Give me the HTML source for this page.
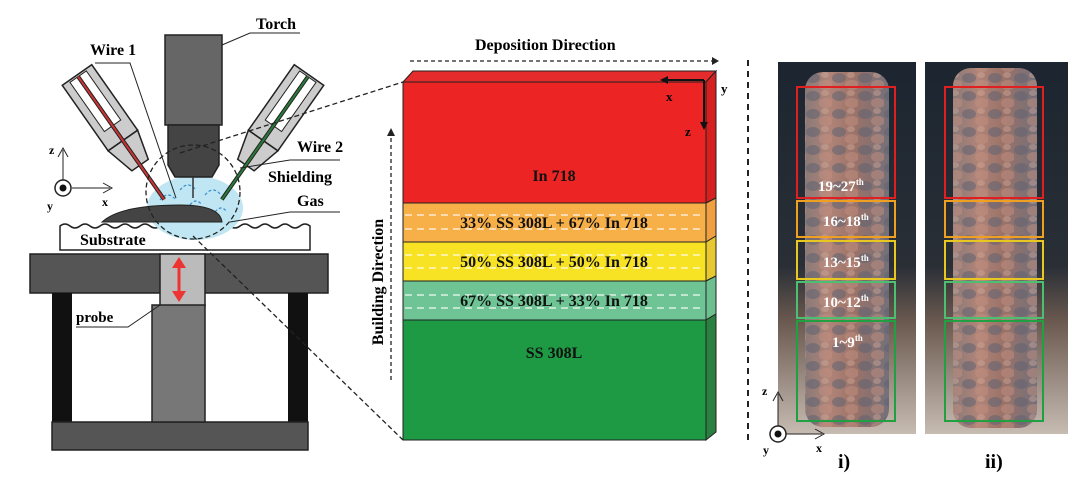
<!DOCTYPE html>
<html><head><meta charset="utf-8"><style>
html,body{margin:0;padding:0;background:#fff}
svg{display:block}
text{font-family:"Liberation Serif",serif;font-weight:bold}
</style></head><body>
<svg width="1080" height="482" viewBox="0 0 1080 482" xmlns="http://www.w3.org/2000/svg">
<defs>
<linearGradient id="ph" x1="0" y1="0" x2="0" y2="1">
<stop offset="0" stop-color="#1c2530"/><stop offset="0.55" stop-color="#2a2f36"/><stop offset="0.7" stop-color="#6b5a50"/><stop offset="1" stop-color="#c7bcb2"/>
</linearGradient>
<linearGradient id="col" x1="0" y1="0" x2="1" y2="0">
<stop offset="0" stop-color="#8a7a78"/><stop offset="0.3" stop-color="#b08478"/><stop offset="0.6" stop-color="#9a7268"/><stop offset="1" stop-color="#74707a"/>
</linearGradient>
<pattern id="blob" width="26" height="18" patternUnits="userSpaceOnUse">
<ellipse cx="7" cy="6" rx="7" ry="5" fill="#5e6270" opacity="0.55"/>
<ellipse cx="20" cy="13" rx="7" ry="5" fill="#c49080" opacity="0.5"/>
<ellipse cx="19" cy="3" rx="4" ry="3" fill="#d6b0a0" opacity="0.4"/>
</pattern>
</defs>
<!-- table -->
<rect x="30" y="254" width="298" height="39" fill="#555" stroke="#222" stroke-width="1.5"/>
<rect x="52" y="293" width="20" height="130" fill="#111"/>
<rect x="288" y="293" width="20" height="130" fill="#111"/>
<rect x="52" y="422" width="256" height="28" fill="#555" stroke="#222" stroke-width="1.5"/>
<rect x="160" y="254" width="45" height="52" fill="#bbb" stroke="#222" stroke-width="1.5"/>
<rect x="152" y="305" width="53" height="117" fill="#777" stroke="#222" stroke-width="1.5"/>
<line x1="179" y1="262" x2="179" y2="297" stroke="#e33" stroke-width="3"/>
<polygon points="179,257 172,268 186,268" fill="#e33"/><polygon points="179,302 172,291 186,291" fill="#e33"/>
<text x="76" y="322" font-size="15">probe</text>
<polyline points="76,327 128,327 160,305" fill="none" stroke="#222" stroke-width="1"/>
<!-- substrate -->
<path d="M60,226 q5,-4 10,0 t10,0 t10,0 t10,0 t10,0 t10,0 t10,0 t10,0 t10,0 t10,0 t10,0 t10,0 t10,0 t10,0 t10,0 t10,0 t10,0 t10,0 t10,0 t10,0 t10,0 t10,0 t10,0 t10,0 t10,0 L310,250 L60,250 Z" fill="#fff" stroke="#222" stroke-width="1.5"/>
<text x="80" y="245" font-size="16">Substrate</text>
<!-- gas -->
<ellipse cx="195" cy="208" rx="48" ry="32" fill="#bfe6f2"/>
<path d="M160,200 q8,-10 16,0 M180,190 q8,-10 16,0 M205,195 q8,-10 16,0 M170,215 q6,-8 12,0 M215,212 q6,-8 12,0 M190,205 q6,-8 12,0" stroke="#3a8fd0" stroke-width="1.2" fill="none" stroke-dasharray="3,2"/>
<path d="M102,222 Q120,205 180,205 Q220,205 222,222 Z" fill="#444" stroke="#222"/>
<!-- torch -->
<rect x="165" y="35" width="57" height="90" fill="#666" stroke="#222" stroke-width="1.5"/>
<polygon points="168,125 219,125 219,165 212,177 175,177 168,165" fill="#444" stroke="#222" stroke-width="1.5"/>
<line x1="193" y1="177" x2="193" y2="198" stroke="#333" stroke-width="1.5"/>
<text x="256" y="29" font-size="16">Torch</text>
<polyline points="222,45 250,33 300,33" fill="none" stroke="#222"/>
<!-- wire1 holder -->
<g transform="translate(77,75) rotate(-35)">
<rect x="-18" y="0" width="36" height="80" fill="#ccc" stroke="#222" stroke-width="1.5"/>
<rect x="-10" y="2" width="20" height="60" fill="#fff" stroke="#222"/>
<polygon points="-18,80 18,80 10,110 -10,110" fill="#ccc" stroke="#222" stroke-width="1.5"/>
<line x1="0" y1="2" x2="0" y2="152" stroke="#222" stroke-width="4"/>
<line x1="0" y1="2" x2="0" y2="152" stroke="#c33" stroke-width="2"/>
</g>
<!-- wire2 holder -->
<g transform="translate(309,75) rotate(35)">
<rect x="-18" y="0" width="36" height="80" fill="#ccc" stroke="#222" stroke-width="1.5"/>
<rect x="-10" y="2" width="20" height="60" fill="#fff" stroke="#222"/>
<polygon points="-18,80 18,80 10,110 -10,110" fill="#ccc" stroke="#222" stroke-width="1.5"/>
<line x1="0" y1="2" x2="0" y2="152" stroke="#222" stroke-width="4"/>
<line x1="0" y1="2" x2="0" y2="152" stroke="#2a7a3a" stroke-width="2"/>
</g>
<text x="90" y="55" font-size="16">Wire 1</text>
<polyline points="95,63 130,63 176,198" fill="none" stroke="#222"/>
<text x="297" y="152" font-size="16">Wire 2</text>
<polyline points="340,160 290,160 240,168" fill="none" stroke="#222"/>
<text x="268" y="182" font-size="16">Shielding</text>
<text x="297" y="206" font-size="16">Gas</text>
<polyline points="340,212 290,212 230,222" fill="none" stroke="#222"/>
<!-- axes left -->
<line x1="63" y1="187" x2="63" y2="150" stroke="#222"/><polyline points="58,157 63,148 68,157" fill="none" stroke="#222"/>
<text x="49" y="154" font-size="12">z</text>
<line x1="72" y1="188" x2="110" y2="188" stroke="#222"/><polyline points="103,183 112,188 103,193" fill="none" stroke="#222"/>
<text x="102" y="206" font-size="12">x</text>
<circle cx="63" cy="188" r="8" fill="#fff" stroke="#222" stroke-width="1.5"/><circle cx="63" cy="188" r="3.5" fill="#111"/>
<text x="47" y="210" font-size="12">y</text>
<!-- dashed circle and lines -->
<circle cx="193" cy="192" r="47" fill="none" stroke="#222" stroke-width="1.3" stroke-dasharray="5,3"/>
<line x1="180" y1="153" x2="403" y2="82" stroke="#222" stroke-width="1.3" stroke-dasharray="5,3"/>
<line x1="193" y1="236" x2="403" y2="440" stroke="#222" stroke-width="1.3" stroke-dasharray="5,3"/>
<!-- block -->
<text x="475" y="50" font-size="16">Deposition Direction</text>
<line x1="410" y1="61" x2="712" y2="61" stroke="#222" stroke-width="1.3" stroke-dasharray="4,3"/>
<polygon points="712,57 719,61 712,65" fill="#222"/>
<polygon points="403,82 413,71 716,71 706,82" fill="#e52b2b" stroke="#222"/>
<polygon points="706,82 716,71 716,198 706,203" fill="#d62020" stroke="#222"/>
<polygon points="706,203 716,198 716,236 706,242" fill="#f0a040" stroke="#222"/>
<polygon points="706,242 716,236 716,276 706,281" fill="#e8c830" stroke="#222"/>
<polygon points="706,281 716,276 716,314 706,320" fill="#6cc090" stroke="#222"/>
<polygon points="706,320 716,314 716,432 706,440" fill="#2a8040" stroke="#222"/>
<rect x="403" y="82" width="303" height="121" fill="#ec2424" stroke="#222"/>
<rect x="403" y="203" width="303" height="39" fill="#f7b048" stroke="#222"/>
<rect x="403" y="242" width="303" height="39" fill="#f7e224" stroke="#222"/>
<rect x="403" y="281" width="303" height="39" fill="#6ec494" stroke="#222"/>
<rect x="403" y="320" width="303" height="120" fill="#1e9a44" stroke="#222"/>
<g stroke="#fff" stroke-width="1.2" stroke-dasharray="7,5" opacity="0.9">
<line x1="405" y1="215" x2="704" y2="215"/><line x1="405" y1="229" x2="704" y2="229"/>
<line x1="405" y1="255" x2="704" y2="255"/><line x1="405" y1="268" x2="704" y2="268"/>
<line x1="405" y1="295" x2="704" y2="295"/><line x1="405" y1="308" x2="704" y2="308"/>
</g>
<g font-size="16" text-anchor="middle" fill="#111">
<text x="554" y="181">In 718</text>
<text x="554" y="228">33% SS 308L + 67% In 718</text>
<text x="554" y="267">50% SS 308L + 50% In 718</text>
<text x="554" y="306">67% SS 308L + 33% In 718</text>
<text x="554" y="358">SS 308L</text>
</g>
<line x1="704" y1="80" x2="664" y2="80" stroke="#111" stroke-width="2"/><polygon points="660,80 668,76 668,84" fill="#111"/>
<line x1="704" y1="80" x2="704" y2="125" stroke="#111" stroke-width="2"/><polygon points="704,130 700,122 708,122" fill="#111"/>
<text x="666" y="101" font-size="13">x</text><text x="685" y="136" font-size="13">z</text><text x="721" y="93" font-size="13">y</text>
<text transform="translate(383,282) rotate(-90)" font-size="16" text-anchor="middle">Building Direction</text>
<line x1="391" y1="380" x2="391" y2="135" stroke="#222" stroke-width="1.3" stroke-dasharray="4,3"/>
<polygon points="387,136 391,128 395,136" fill="#222"/>
<line x1="748" y1="60" x2="748" y2="442" stroke="#222" stroke-width="2" stroke-dasharray="6,5"/>
<!-- photos -->
<rect x="778" y="62" width="138" height="372" fill="url(#ph)"/>
<rect x="925" y="62" width="143" height="372" fill="url(#ph)"/>
<rect x="805" y="72" width="84" height="355" rx="18" fill="url(#col)"/>
<rect x="805" y="72" width="84" height="355" rx="18" fill="url(#blob)"/>
<rect x="953" y="68" width="84" height="360" rx="18" fill="url(#col)"/>
<rect x="953" y="68" width="84" height="360" rx="18" fill="url(#blob)"/>
<g fill="none" stroke-width="2">
<rect x="797" y="87" width="98" height="111" stroke="#e02020"/>
<rect x="797" y="201" width="98" height="36" stroke="#f0a020"/>
<rect x="797" y="241" width="98" height="38" stroke="#e8c820"/>
<rect x="797" y="282" width="98" height="36" stroke="#4cc070"/>
<rect x="797" y="321" width="98" height="100" stroke="#20a040"/>
<rect x="945" y="87" width="98" height="111" stroke="#e02020"/>
<rect x="945" y="201" width="98" height="36" stroke="#f0a020"/>
<rect x="945" y="241" width="98" height="38" stroke="#e8c820"/>
<rect x="945" y="282" width="98" height="36" stroke="#4cc070"/>
<rect x="945" y="321" width="98" height="100" stroke="#20a040"/>
</g>
<g fill="#fff" font-size="15">
<text x="818" y="191">19~27<tspan font-size="9" dy="-6">th</tspan></text>
<text x="823" y="226">16~18<tspan font-size="9" dy="-6">th</tspan></text>
<text x="823" y="267">13~15<tspan font-size="9" dy="-6">th</tspan></text>
<text x="823" y="307">10~12<tspan font-size="9" dy="-6">th</tspan></text>
<text x="832" y="347">1~9<tspan font-size="9" dy="-6">th</tspan></text>
</g>
<line x1="778" y1="434" x2="778" y2="394" stroke="#222"/><polyline points="773,401 778,392 783,401" fill="none" stroke="#222"/>
<text x="762" y="395" font-size="12">z</text>
<line x1="786" y1="434" x2="822" y2="434" stroke="#222"/><polyline points="815,429 824,434 815,439" fill="none" stroke="#222"/>
<text x="816" y="452" font-size="12">x</text>
<circle cx="778" cy="434" r="8" fill="#fff" stroke="#222" stroke-width="1.5"/><circle cx="778" cy="434" r="3.5" fill="#111"/>
<text x="763" y="454" font-size="12">y</text>
<text x="838" y="468" font-size="20">i)</text>
<text x="985" y="468" font-size="20">ii)</text>
</svg>
</body></html>
